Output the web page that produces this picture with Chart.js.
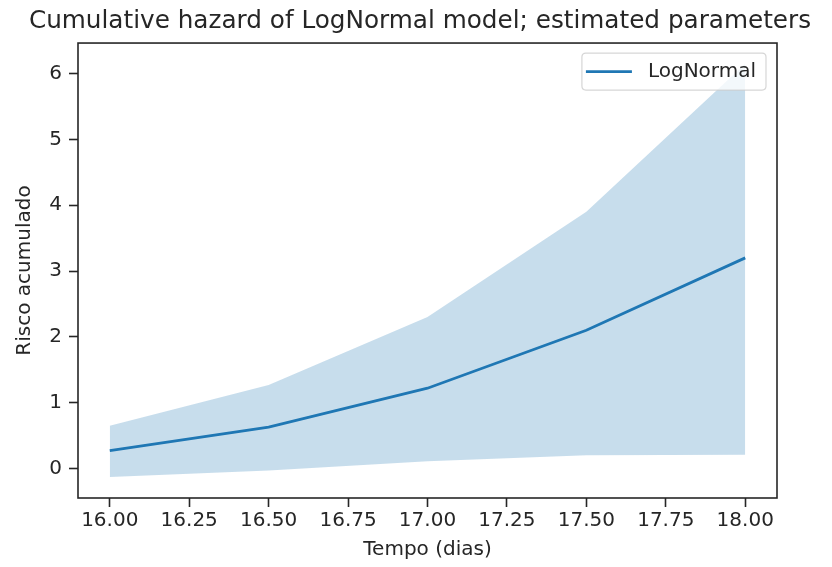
<!DOCTYPE html>
<html>
<head>
<meta charset="utf-8">
<script src="https://cdn.jsdelivr.net/npm/chart.js@4/dist/chart.umd.min.js"></script>
<style>
  html, body { margin: 0; padding: 0; background: #ffffff; }
  #wrap { width: 832px; height: 567px; }
</style>
</head>
<body>
<div id="wrap"><canvas id="c" width="832" height="567"></canvas></div>
<script>
// ---- data ----
const timeDays   = [16.0, 16.5, 17.0, 17.5, 18.0];
const hazardMean = [0.27, 0.63, 1.22, 2.10, 3.20];
const hazardUpper = [0.65, 1.27, 2.30, 3.90, 6.15];
const hazardLower = [-0.13, -0.03, 0.11, 0.20, 0.21];
const xTickValues = [16.0, 16.25, 16.5, 16.75, 17.0, 17.25, 17.5, 17.75, 18.0];
const yTickValues = [0, 1, 2, 3, 4, 5, 6];
const seriesName = 'LogNormal';
const titleText = 'Cumulative hazard of LogNormal model; estimated parameters';
const xLabel = 'Tempo (dias)';
const yLabel = 'Risco acumulado';

const FONT = '"DejaVu Sans", "Liberation Sans", sans-serif';
const C0 = '#1f77b4';
const BAND = 'rgba(31,119,180,0.25)';

function pts(ys) { return timeDays.map((x, i) => ({ x: x, y: ys[i] })); }

const spines = {
  id: 'spines',
  afterDatasetsDraw(chart) {
    const a = chart.chartArea, ctx = chart.ctx;
    ctx.save();
    ctx.strokeStyle = '#262626';
    ctx.lineWidth = 1.6;
    ctx.strokeRect(a.left, a.top, a.right - a.left, a.bottom - a.top);
    ctx.restore();
  }
};

const boxLegend = {
  id: 'boxLegend',
  afterDraw(chart) {
    const ds = chart.data.datasets[2];
    const a = chart.chartArea, ctx = chart.ctx;
    ctx.save();
    ctx.font = '20px ' + FONT;
    const tw = ctx.measureText(ds.label).width;
    const w = 66 + tw + 10, h = 37;
    const x0 = a.right - 11 - w, y0 = a.top + 10, r = 4;
    ctx.beginPath();
    ctx.moveTo(x0 + r, y0);
    ctx.lineTo(x0 + w - r, y0);
    ctx.quadraticCurveTo(x0 + w, y0, x0 + w, y0 + r);
    ctx.lineTo(x0 + w, y0 + h - r);
    ctx.quadraticCurveTo(x0 + w, y0 + h, x0 + w - r, y0 + h);
    ctx.lineTo(x0 + r, y0 + h);
    ctx.quadraticCurveTo(x0, y0 + h, x0, y0 + h - r);
    ctx.lineTo(x0, y0 + r);
    ctx.quadraticCurveTo(x0, y0, x0 + r, y0);
    ctx.closePath();
    ctx.fillStyle = 'rgba(255,255,255,0.8)';
    ctx.fill();
    ctx.strokeStyle = 'rgba(204,204,204,0.8)';
    ctx.lineWidth = 1.2;
    ctx.stroke();
    const cy = y0 + h / 2;
    ctx.beginPath();
    ctx.moveTo(x0 + 4, cy);
    ctx.lineTo(x0 + 50, cy);
    ctx.strokeStyle = ds.borderColor;
    ctx.lineWidth = 2.8;
    ctx.stroke();
    ctx.fillStyle = '#262626';
    ctx.textAlign = 'left';
    ctx.textBaseline = 'middle';
    ctx.fillText(ds.label, x0 + 66, cy);
    ctx.restore();
  }
};

new Chart(document.getElementById('c'), {
  type: 'line',
  data: {
    datasets: [
      { label: 'lower', data: pts(hazardLower), borderWidth: 0, borderColor: 'rgba(0,0,0,0)', pointRadius: 0, fill: false, tension: 0 },
      { label: 'upper', data: pts(hazardUpper), borderWidth: 0, borderColor: 'rgba(0,0,0,0)', backgroundColor: BAND, pointRadius: 0, fill: '-1', tension: 0 },
      { label: seriesName, data: pts(hazardMean), borderColor: C0, borderWidth: 2.8, pointRadius: 0, fill: false, tension: 0 }
    ]
  },
  options: {
    responsive: false,
    animation: false,
    layout: { padding: { left: 8, right: 0, top: 0, bottom: 0 } },
    plugins: {
      legend: { display: false },
      tooltip: { enabled: false },
      title: {
        display: true,
        text: titleText,
        color: '#262626',
        font: { family: FONT, size: 24.7, weight: 'normal' },
        padding: { top: 6.7, bottom: 6.7 }
      }
    },
    scales: {
      x: {
        type: 'linear',
        min: 15.9, max: 18.1,
        afterBuildTicks: s => { s.ticks = xTickValues.map(v => ({ value: v })); },
        afterFit: s => { s.height = 69; s.paddingLeft = 0; s.paddingRight = 0; },
        ticks: {
          color: '#262626', font: { family: FONT, size: 20 }, padding: 2,
          maxRotation: 0, autoSkip: false,
          callback: v => Number(v).toFixed(2)
        },
        grid: { drawOnChartArea: false, drawTicks: true, tickLength: 9, tickWidth: 1.6, tickColor: '#262626' },
        border: { display: false },
        title: { display: true, text: xLabel, color: '#262626', font: { family: FONT, size: 20 }, padding: { top: 0, bottom: 5.5 } }
      },
      y: {
        type: 'linear',
        position: 'left',
        min: -0.448, max: 6.464,
        afterBuildTicks: s => { s.ticks = yTickValues.map(v => ({ value: v })); },
        afterFit: s => { s.width = 70; s.paddingTop = 0; s.paddingBottom = 0; },
        ticks: {
          color: '#262626', font: { family: FONT, size: 20 }, padding: 7,
          callback: v => String(v)
        },
        grid: { drawOnChartArea: false, drawTicks: true, tickLength: 9, tickWidth: 1.6, tickColor: '#262626' },
        border: { display: false },
        title: { display: true, text: yLabel, color: '#262626', font: { family: FONT, size: 20 }, padding: { top: 5, bottom: 0 } }
      },
      yRight: {
        type: 'linear',
        position: 'right',
        display: true,
        min: 0, max: 1,
        afterFit: s => { s.width = 55; s.paddingTop = 0; s.paddingBottom = 0; },
        ticks: { display: false },
        grid: { display: false },
        border: { display: false }
      }
    }
  },
  plugins: [spines, boxLegend]
});
</script>
</body>
</html>
